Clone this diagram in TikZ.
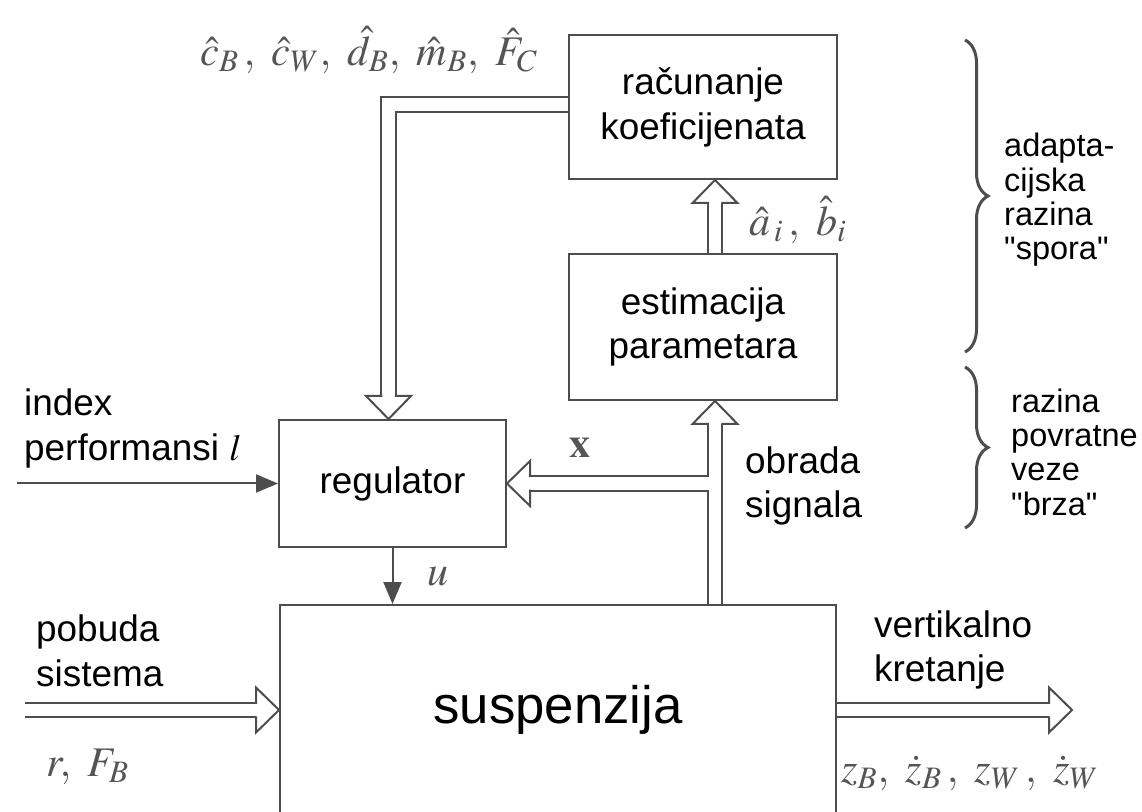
\documentclass[tikz,border=0pt]{standalone}
\usepackage{mathptmx}
\usepackage[no-math]{fontspec}
\setmainfont{Liberation Sans}
\usepackage{tikz}
\usetikzlibrary{arrows.meta,positioning,calc,decorations.pathreplacing}
\definecolor{linegray}{HTML}{4D4D4D}
\definecolor{mathgray}{HTML}{555555}

\tikzset{
	hhead/.pic={\draw[draw=linegray, line width=0.04cm, line join=miter, line cap=rect] (-0.46,0.145) -- (-0.46,0.45) -- (0,0) -- (-0.46,-0.45) -- (-0.46,-0.145);}
}

\begin{document}
\begin{tikzpicture}[
		x=1cm,y=1cm,
		>=Latex,
		box/.style={draw=linegray, line width=0.04cm, minimum width=5.36cm, minimum height=2.88cm, inner sep=0pt, align=center, font=\fontsize{21}{25.5}\selectfont},
		hollow/.style={draw=linegray, line width=0.04cm, double=white, double distance=0.25cm},
		thinflow/.style={-{Triangle[length=0.44cm,width=0.36cm]}, line width=0.04cm, draw=linegray},
		bodytext/.style={font=\fontsize{21}{25.5}\selectfont, align=left},
		bracetext/.style={font=\fontsize{18.5}{19.5}\selectfont, align=left},
		mathlabel/.style={font=\fontsize{24}{28}\selectfont, text=mathgray, inner sep=1pt},
		levelbrace/.style={decorate, decoration={brace, amplitude=0.46cm}, line width=0.06cm, draw=linegray}
	]
	\useasboundingbox (0,0) rectangle (22.84,16.22);
	
	% Blocks
	\node[box] (calc) at (14.06,14.08) {računanje\\koeficijenata};
	\node[box, minimum height=2.92cm] (est) at (14.06,9.68) {estimacija\\parametara};
	\node[box, minimum width=4.54cm, minimum height=2.54cm] (reg) at (7.85,6.55) {regulator};
	\node[box, minimum width=11.12cm, minimum height=4.2cm, font=\fontsize{30}{34}\selectfont] (susp) at (11.16,2.02) {suspenzija};
	
	\coordinate (fbx) at (14.3,0);
	\coordinate (regin) at ([xshift=-0.08cm]reg.north);
	\coordinate (pin) at (0.5,2.02);
	\coordinate (pout) at (21.44,2.02);
	\coordinate (lin) at (0.34,6.55);
	
	% Adaptation loop
	\draw[hollow] ([yshift=0.05cm]calc.west) -| ([yshift=0.46cm]regin);
	\pic[rotate=-90] at (regin) {hhead};
	\draw[hollow] (est.north -| fbx) -- ($(calc.south -| fbx)+(0,-0.46)$);
	\pic[rotate=90] at (calc.south -| fbx) {hhead};
	
	% Feedback loop
	\draw[hollow] (susp.north -| fbx) -- ($(est.south -| fbx)+(0,-0.46)$);
	\pic[rotate=90] at (est.south -| fbx) {hhead};
	\draw[hollow] ($(reg.east -| fbx)+(-0.125,0)$) -- ($(reg.east)+(0.46,0)$);
	\pic[rotate=180] at (reg.east) {hhead};
	\draw[thinflow] (lin) -- (lin -| reg.west);
	\draw[thinflow] (reg.south) -- (reg.south |- susp.north);
	
	% Plant in and out
	\draw[hollow] (pin) -- ($(pin -| susp.west)+(-0.46,0)$);
	\pic at (pin -| susp.west) {hhead};
	\draw[hollow] (pout -| susp.east) -- ($(pout)+(-0.46,0)$);
	\pic at (pout) {hhead};
	
	% Labels
	\node[mathlabel] (coeflabel) at (7.38,15.22) {$\hat{c}_B\,,\ \hat{c}_W,\ \hat{d}_B,\ \hat{m}_B,\ \hat{F}_C$};
	\node[mathlabel] (estlabel) at (15.96,11.82) {$\hat{a}_{\,i}\,,\ \hat{b}_i$};
	\node[mathlabel] (xlabel) at (11.6,7.26) {$\mathbf{x}$};
	\node[mathlabel] (ulabel) at (8.76,4.68) {$u$};
	\node[mathlabel] (inlabel) at (1.76,0.88) {$r,\ F_B$};
	\node[mathlabel] (outlabel) at (19.4,0.76) {$z_B,\ \dot{z}_B\,,\ z_W\,,\ \dot{z}_W$};
	\node[bodytext, anchor=west] (obrada) at (14.78,6.5) {obrada\\signala};
	\node[bodytext, anchor=west] (index) at (0.36,7.65) {index\\performansi $l$};
	\node[bodytext, anchor=west] (pobuda) at (0.6,3.2) {pobuda\\sistema};
	\node[bodytext, anchor=west] (vert) at (17.36,3.22) {vertikalno\\kretanje};
	
	% Levels
	\draw[levelbrace] (19.3,15.42) -- (19.3,9.18);
	\draw[levelbrace] (19.3,8.88) -- (19.3,5.66);
	\node[bracetext, anchor=west] (slow) at (19.96,12.22) {adapta-\\cijska\\razina\\\textquotedbl spora\textquotedbl};
	\node[bracetext, anchor=west] (fast) at (20.1,7.18) {razina\\povratne\\veze\\\textquotedbl brza\textquotedbl};
	
\end{tikzpicture}
\end{document}
